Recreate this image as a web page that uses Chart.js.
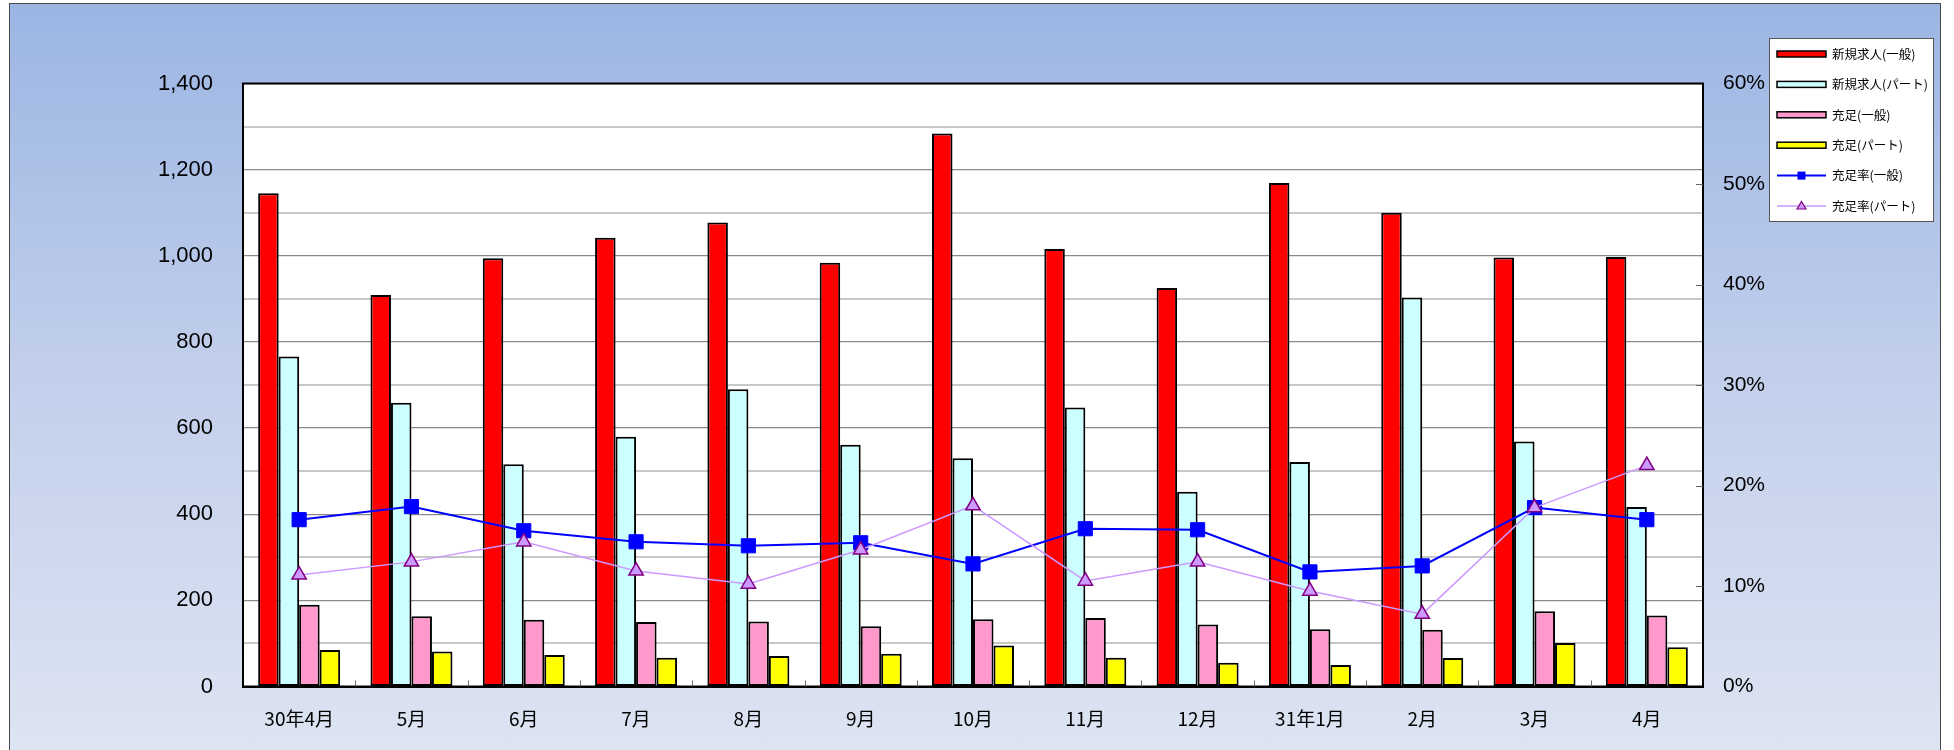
<!DOCTYPE html>
<html>
<head>
<meta charset="utf-8">
<script src="https://cdn.jsdelivr.net/npm/chart.js@4.4.1/dist/chart.umd.min.js"></script>
<style>
  html, body { margin: 0; padding: 0; background: #ffffff; }
  #wrap { position: relative; width: 1954px; height: 750px; overflow: hidden; }
  #bg { position: absolute; left: 9px; top: 3px; width: 1930px; height: 800px;
        border: 1px solid #4a4a4a;
        background: linear-gradient(to bottom, #9bb5e3 0px, #c3d0ec 380px, #dde4f2 750px); }
  #c { position: absolute; left: 0; top: 0; }
</style>
</head>
<body>
<div id="wrap">
  <div id="bg"></div>
  <canvas id="c" width="1954" height="750"></canvas>
</div>
<script>
// ---- data ----
const categories = ['30年4月','5月','6月','7月','8月','9月','10月','11月','12月','31年1月','2月','3月','4月'];
const newGeneral   = [1145, 909, 994, 1042, 1077, 984, 1284, 1016, 925, 1169, 1100, 996, 997];
const newPart      = [766, 659, 516, 580, 690, 561, 530, 648, 452, 521, 903, 569, 417];
const filledGeneral = [190, 163, 155, 150, 151, 140, 156, 159, 144, 133, 132, 175, 165];
const filledPart    = [85, 81, 73, 67, 71, 76, 95, 67, 55, 50, 66, 101, 91];
const rateGeneral   = [16.6, 17.9, 15.5, 14.4, 14.0, 14.3, 12.2, 15.7, 15.6, 11.4, 12.0, 17.8, 16.6];
const ratePart      = [11.1, 12.4, 14.4, 11.5, 10.2, 13.6, 18.0, 10.5, 12.4, 9.5, 7.2, 17.8, 22.0];
const seriesNames = ['新規求人(一般)','新規求人(パート)','充足(一般)','充足(パート)','充足率(一般)','充足率(パート)'];

const plotBg = {
  id: 'plotBg',
  beforeDraw(chart) {
    const {ctx, chartArea: a} = chart;
    ctx.save();
    ctx.fillStyle = '#ffffff';
    ctx.fillRect(a.left, a.top, a.right - a.left, a.bottom - a.top);
    ctx.restore();
  }
};

const frameAndTicks = {
  id: 'frameAndTicks',
  afterDraw(chart) {
    const {ctx, chartArea: a} = chart;
    ctx.save();
    ctx.strokeStyle = '#000';
    ctx.lineWidth = 2;
    ctx.strokeRect(a.left, a.top, a.right - a.left, a.bottom - a.top);
    const xs = chart.scales.x;
    ctx.strokeStyle = '#666';
    ctx.lineWidth = 1;
    for (let i = 1; i < categories.length; i++) {
      const px = (xs.getPixelForValue(i - 1) + xs.getPixelForValue(i)) / 2;
      ctx.beginPath();
      ctx.moveTo(Math.round(px) + 0.5, a.bottom);
      ctx.lineTo(Math.round(px) + 0.5, a.bottom - 6);
      ctx.stroke();
    }
    const ys = chart.scales.y2;
    for (let v = 10; v < 60; v += 10) {
      const py = ys.getPixelForValue(v);
      ctx.beginPath();
      ctx.moveTo(a.right, Math.round(py) + 0.5);
      ctx.lineTo(a.right - 7, Math.round(py) + 0.5);
      ctx.stroke();
    }
    ctx.restore();
  }
};

const customLegend = {
  id: 'customLegend',
  afterDraw(chart) {
    const ctx = chart.ctx;
    const bx = 1769, by = 38, bw = 164, bh = 183;
    ctx.save();
    ctx.fillStyle = '#ffffff';
    ctx.fillRect(bx, by, bw, bh);
    ctx.strokeStyle = '#555';
    ctx.lineWidth = 1;
    ctx.strokeRect(bx + 0.5, by + 0.5, bw, bh);
    ctx.font = '12.5px "Noto Sans CJK JP"';
    ctx.textBaseline = 'middle';
    chart.data.datasets.forEach((ds, i) => {
      const y = 54 + i * 30.4;
      const x0 = 1777, x1 = 1826;
      if (ds.type === 'bar') {
        ctx.fillStyle = ds.backgroundColor;
        ctx.fillRect(x0, y - 3, x1 - x0, 6);
        ctx.strokeStyle = '#000';
        ctx.lineWidth = 1.5;
        ctx.strokeRect(x0, y - 3, x1 - x0, 6);
      } else {
        ctx.strokeStyle = ds.borderColor;
        ctx.lineWidth = ds.borderWidth;
        ctx.beginPath();
        ctx.moveTo(x0, y); ctx.lineTo(x1, y); ctx.stroke();
        ctx.fillStyle = ds.pointBackgroundColor;
        ctx.strokeStyle = ds.pointBorderColor;
        ctx.lineWidth = 1.2;
        const cx = (x0 + x1) / 2;
        if (ds.pointStyle === 'rect') {
          ctx.fillRect(cx - 4, y - 4, 8, 8);
        } else {
          ctx.beginPath();
          ctx.moveTo(cx, y - 4.5); ctx.lineTo(cx + 4.5, y + 3); ctx.lineTo(cx - 4.5, y + 3);
          ctx.closePath(); ctx.fill(); ctx.stroke();
        }
      }
      ctx.fillStyle = '#000';
      ctx.fillText(ds.label, 1832, y);
    });
    ctx.restore();
  }
};

const barCommon = { type: 'bar', yAxisID: 'y', borderColor: '#000000', borderWidth: 2,
  borderSkipped: false, categoryPercentage: 0.73, barPercentage: 1.0, order: 2 };

new Chart(document.getElementById('c'), {
  data: {
    labels: categories,
    datasets: [
      Object.assign({}, barCommon, { label: seriesNames[0], data: newGeneral, backgroundColor: '#ff0000' }),
      Object.assign({}, barCommon, { label: seriesNames[1], data: newPart, backgroundColor: '#ccffff' }),
      Object.assign({}, barCommon, { label: seriesNames[2], data: filledGeneral, backgroundColor: '#ff99cc' }),
      Object.assign({}, barCommon, { label: seriesNames[3], data: filledPart, backgroundColor: '#ffff00' }),
      { type: 'line', label: seriesNames[4], data: rateGeneral, yAxisID: 'y2', order: 1,
        borderColor: '#0000ff', borderWidth: 2, pointStyle: 'rect', pointRadius: 10,
        pointBackgroundColor: '#0000ff', pointBorderColor: '#0000ff', pointBorderWidth: 1, tension: 0 },
      { type: 'line', label: seriesNames[5], data: ratePart, yAxisID: 'y2', order: 0,
        borderColor: '#cc99ff', borderWidth: 1.5, pointStyle: 'triangle', pointRadius: 8.3,
        pointBackgroundColor: '#cc99ff', pointBorderColor: '#800080', pointBorderWidth: 1.5, tension: 0 }
    ]
  },
  options: {
    responsive: false,
    animation: false,
    devicePixelRatio: 1,
    layout: { padding: { top: 83.5, left: 0, right: 0, bottom: 0 } },
    plugins: { legend: { display: false }, tooltip: { enabled: false }, title: { display: false } },
    scales: {
      x: {
        offset: true,
        grid: { display: false },
        border: { display: true, color: '#000', width: 2 },
        ticks: { color: '#000', padding: 13, maxRotation: 0, autoSkip: false,
                 font: { family: '"Noto Sans CJK JP"', size: 19 } },
        afterFit(s) { s.height = 63.5; }
      },
      y: {
        position: 'left', min: 0, max: 1400,
        ticks: { stepSize: 100, padding: 30, color: '#000',
                 font: { family: '"Liberation Sans", Arial', size: 22 },
                 callback: v => (v % 200 === 0 ? v.toLocaleString('en-US') : '') },
        grid: { drawTicks: false,
                color: c => (c.tick && c.tick.value % 200 === 0 ? '#8a8a8a' : '#c8c8c8'),
                lineWidth: c => (c.tick && c.tick.value % 200 === 0 ? 1.2 : 2) },
        border: { display: true, color: '#000', width: 2 },
        afterFit(s) { s.width = 243; }
      },
      y2: {
        position: 'right', min: 0, max: 60,
        ticks: { stepSize: 10, padding: 20, color: '#000',
                 font: { family: '"Liberation Sans", Arial', size: 21 },
                 callback: v => v + '%' },
        grid: { drawOnChartArea: false, drawTicks: false },
        border: { display: true, color: '#000', width: 2 },
        afterFit(s) { s.width = 251; }
      }
    }
  },
  plugins: [plotBg, frameAndTicks, customLegend]
});
</script>
</body>
</html>
